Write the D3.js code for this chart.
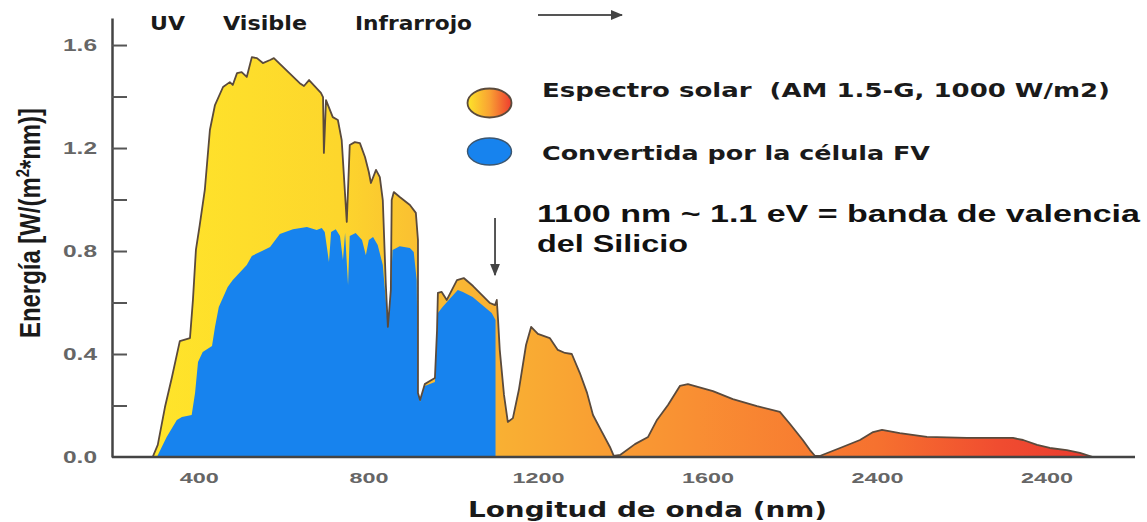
<!DOCTYPE html>
<html>
<head>
<meta charset="utf-8">
<script src="https://cdn.jsdelivr.net/npm/d3@7"></script>
<style>
  html, body { margin: 0; padding: 0; background: #ffffff; }
  svg { display: block; }
</style>
</head>
<body>
<svg id="chart" width="1147" height="522"></svg>
<script>
// AM 1.5-G solar spectral irradiance (W/(m²·nm)) by wavelength (nm)
const solarWavelength = [291,303,320,336,355,379,386,393,402,414,426,438,457,473,480,490,501,513,525,537,551,568,577,638,648,660,688,693,695,700,716,728,737,749,756,768,780,792,801,806,818,827,834,841,846,853,855,860,874,898,912,917,917,922,933,945,957,962,964,973,985,1009,1025,1047,1087,1099,1103,1106,1110,1120,1129,1141,1155,1172,1184,1200,1228,1247,1264,1280,1299,1316,1330,1346,1370,1379,1394,1429,1460,1481,1507,1535,1554,1613,1660,1717,1771,1795,1825,1842,1854,1865,1913,1960,1991,2012,2054,2118,2212,2321,2345,2378,2408,2448,2479,2510];
const solarIrradiance = [0,0.047,0.194,0.307,0.450,0.462,0.610,0.804,0.901,1.037,1.270,1.367,1.437,1.456,1.445,1.491,1.495,1.476,1.553,1.549,1.530,1.542,1.549,1.452,1.441,1.464,1.414,1.398,1.181,1.386,1.320,1.309,1.231,0.913,1.212,1.223,1.219,1.165,1.107,1.064,1.115,1.087,0.998,0.676,0.505,0.649,0.998,1.029,1.010,0.979,0.948,0.843,0.249,0.221,0.283,0.295,0.307,0.493,0.637,0.641,0.610,0.687,0.695,0.664,0.598,0.590,0.610,0.532,0.416,0.241,0.136,0.151,0.260,0.435,0.505,0.478,0.462,0.416,0.404,0.400,0.326,0.249,0.163,0.113,0.039,0.004,0.008,0.050,0.078,0.144,0.202,0.276,0.283,0.256,0.225,0.198,0.175,0.128,0.066,0.027,0.004,0.004,0.035,0.066,0.097,0.105,0.093,0.078,0.074,0.074,0.066,0.047,0.035,0.027,0.016,0];

// Portion converted by a silicon PV cell (cut-off at 1100 nm)
const pvWavelength = [301,324,348,360,383,391,398,409,431,438,447,468,480,513,525,549,568,591,622,655,678,690,697,707,712,723,733,740,745,752,756,770,785,794,801,811,822,834,841,846,853,857,874,898,907,914,917,922,933,957,964,975,996,1011,1023,1046,1091,1100,1100];
const pvIrradiance = [0,0.078,0.144,0.155,0.163,0.249,0.369,0.408,0.431,0.505,0.583,0.660,0.687,0.746,0.781,0.800,0.816,0.866,0.885,0.893,0.882,0.889,0.874,0.757,0.874,0.885,0.858,0.765,0.870,0.668,0.858,0.870,0.843,0.784,0.843,0.854,0.823,0.746,0.610,0.500,0.649,0.804,0.819,0.812,0.796,0.687,0.249,0.215,0.276,0.291,0.559,0.583,0.621,0.649,0.641,0.621,0.559,0.532,0];

// Axis ticks
const yTickValues = [0,0.2,0.4,0.6,0.8,1.0,1.2,1.4,1.6];
const yLabelledTicks = [0,0.4,0.8,1.2,1.6];
const xTickValues = [400,800,1200,1600,2000,2400];
const xTickLabels = ["400","800","1200","1600","2400","2400"];

// Band labels across the top
const bandLabels = ["UV","Visible","Infrarrojo"];

// Legend entries
const legendLabels = ["Espectro solar  (AM 1.5-G, 1000 W/m2)","Convertida por la célula FV"];

const svg = d3.select("#chart");

const x = d3.scaleLinear().domain([195, 2609]).range([112, 1135]);
const y = d3.scaleLinear().domain([0, 1.705]).range([457, 18]);

const defs = svg.append("defs");

// Spectrum fill: yellow in the UV/visible shading to red in the far infrared
const spectrumStops = [
  [0.00, "#ffe52a"], [0.20, "#fdd62c"], [0.30, "#f9bb33"], [0.42, "#f9a833"],
  [0.58, "#f98e33"], [0.77, "#f6712f"], [0.90, "#f04c30"], [1.00, "#ea3a2f"]
];
const grad = defs.append("linearGradient")
  .attr("id", "spectrumFill")
  .attr("gradientUnits", "userSpaceOnUse")
  .attr("x1", 150).attr("x2", 1095).attr("y1", 0).attr("y2", 0);
grad.selectAll("stop").data(spectrumStops).join("stop")
  .attr("offset", d => d[0]).attr("stop-color", d => d[1]);

const legendGrad = defs.append("linearGradient")
  .attr("id", "legendFill").attr("x1", 0).attr("x2", 1).attr("y1", 0).attr("y2", 0);
legendGrad.selectAll("stop").data([[0, "#fde52a"], [0.5, "#f9a233"], [1, "#ee3c2f"]]).join("stop")
  .attr("offset", d => d[0]).attr("stop-color", d => d[1]);

defs.append("marker")
  .attr("id", "arrowHead")
  .attr("viewBox", "0 0 10 10")
  .attr("refX", 9).attr("refY", 5)
  .attr("markerWidth", 7).attr("markerHeight", 7)
  .attr("orient", "auto-start-reverse")
  .append("path").attr("d", "M0,1 L10,5 L0,9 Z").attr("fill", "#444");

const solarData = solarWavelength.map((w, i) => [w, solarIrradiance[i]]);
const pvData = pvWavelength.map((w, i) => [w, pvIrradiance[i]]);

const area = d3.area().x(d => x(d[0])).y0(y(0)).y1(d => y(d[1]));
const line = d3.line().x(d => x(d[0])).y(d => y(d[1]));

// Full solar spectrum
svg.append("path").datum(solarData)
  .attr("d", area)
  .attr("fill", "url(#spectrumFill)");

// Energy converted by the cell
svg.append("path").datum(pvData)
  .attr("d", area)
  .attr("fill", "#1783ee");

// Outline of the solar spectrum
svg.append("path").datum(solarData)
  .attr("d", line)
  .attr("fill", "none")
  .attr("stroke", "#5a4a3c")
  .attr("stroke-width", 1.8)
  .attr("stroke-linejoin", "round");

// Y axis with inward ticks
const yAxis = d3.axisLeft(y)
  .tickValues(yTickValues)
  .tickSizeInner(-15)
  .tickSizeOuter(0)
  .tickPadding(15)
  .tickFormat(d => yLabelledTicks.some(v => Math.abs(v - d) < 1e-9) ? d3.format(".1f")(d) : "");

const gy = svg.append("g").attr("transform", "translate(112,0)").call(yAxis);
gy.select(".domain").attr("stroke", "#444").attr("stroke-width", 2.5);
gy.selectAll(".tick line").attr("stroke", "#555").attr("stroke-width", 2);
gy.selectAll(".tick").filter(d => d === 0).select("line").remove();
gy.selectAll(".tick text")
  .attr("fill", "#666")
  .attr("font-family", "Liberation Sans, Arial, sans-serif")
  .attr("font-weight", "bold")
  .attr("font-size", 16)
  .each(function () {
    if (this.textContent) d3.select(this).attr("textLength", 34).attr("lengthAdjust", "spacingAndGlyphs");
  });

// X axis: labels only, no tick marks
const xAxis = d3.axisBottom(x)
  .tickValues(xTickValues)
  .tickSize(0)
  .tickPadding(15)
  .tickFormat((d, i) => xTickLabels[i]);

const gx = svg.append("g").attr("transform", "translate(0,457)").call(xAxis);
gx.select(".domain").remove();
gx.selectAll(".tick text")
  .attr("fill", "#666")
  .attr("font-family", "Liberation Sans, Arial, sans-serif")
  .attr("font-weight", "bold")
  .attr("font-size", 15)
  .attr("textLength", d => String(d).length * 13)
  .attr("lengthAdjust", "spacingAndGlyphs");

svg.append("line")
  .attr("x1", 112).attr("x2", 1135)
  .attr("y1", y(0)).attr("y2", y(0))
  .attr("stroke", "#444").attr("stroke-width", 2.5);

// Helper for stretched bold labels
function label(txt, px, py, size, len, family, color) {
  return svg.append("text")
    .attr("x", px).attr("y", py)
    .attr("font-family", family)
    .attr("font-weight", "bold")
    .attr("font-size", size)
    .attr("fill", color)
    .attr("textLength", len)
    .attr("lengthAdjust", "spacingAndGlyphs")
    .text(txt);
}

const wide = "DejaVu Sans, Verdana, sans-serif";
const arial = "Liberation Sans, Arial, sans-serif";

// Band names
const bandPos = [[150, 35], [223, 84], [355, 117]];
bandLabels.forEach((t, i) => label(t, bandPos[i][0], 30, 19, bandPos[i][1], wide, "#1a1a1a"));

// Arrow pointing to longer wavelengths
svg.append("line")
  .attr("x1", 538).attr("x2", 622).attr("y1", 15).attr("y2", 15)
  .attr("stroke", "#555").attr("stroke-width", 1.8)
  .attr("marker-end", "url(#arrowHead)");

// Legend
svg.append("ellipse")
  .attr("cx", 489.5).attr("cy", 103).attr("rx", 22).attr("ry", 14.5)
  .attr("fill", "url(#legendFill)").attr("stroke", "#5a4a3c").attr("stroke-width", 1.8);
svg.append("ellipse")
  .attr("cx", 489.5).attr("cy", 151.5).attr("rx", 22).attr("ry", 13.5)
  .attr("fill", "#1783ee").attr("stroke", "#3b5670").attr("stroke-width", 1.4);

label(legendLabels[0], 542, 97, 20, 568, wide, "#1a1a1a").attr("xml:space", "preserve");
label(legendLabels[1], 542, 160, 20, 388, wide, "#1a1a1a");

// Silicon band-gap note and marker at 1100 nm
label("1100 nm ~ 1.1 eV = banda de valencia", 537, 222, 23, 603, arial, "#111");
label("del Silicio", 537, 252, 23, 151, arial, "#111");

svg.append("line")
  .attr("x1", x(1100) - 0.5).attr("x2", x(1100) - 0.5)
  .attr("y1", 218).attr("y2", 275)
  .attr("stroke", "#444").attr("stroke-width", 1.8)
  .attr("marker-end", "url(#arrowHead)");

// Axis titles
label("Longitud de onda (nm)", 468, 517, 22, 359, wide, "#1a1a1a");

const yTitle = svg.append("text")
  .attr("transform", "translate(40,223) scale(1.4,1) rotate(-90)")
  .attr("text-anchor", "middle")
  .attr("font-family", arial)
  .attr("font-weight", "bold")
  .attr("font-size", 21)
  .attr("fill", "#1a1a1a")
  .attr("textLength", 230)
  .attr("lengthAdjust", "spacingAndGlyphs");
yTitle.append("tspan").text("Energía [W/(m");
yTitle.append("tspan").attr("font-size", 13).attr("dy", -8).text("2");
yTitle.append("tspan").attr("dy", 8).text("*nm)]");
</script>
</body>
</html>
